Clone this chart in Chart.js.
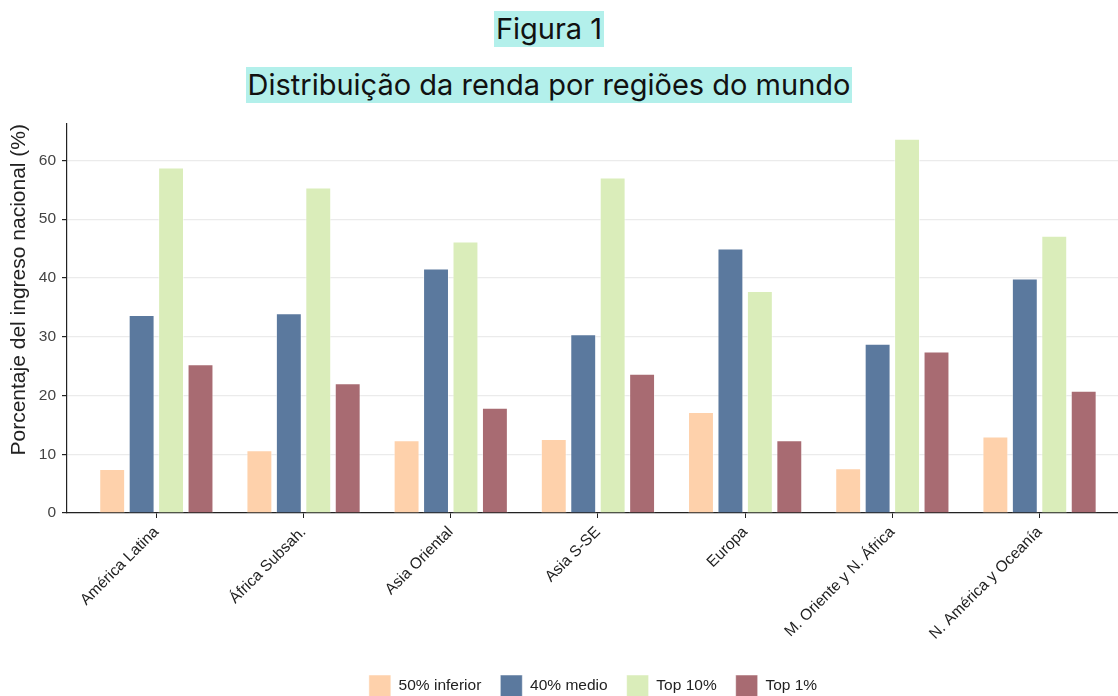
<!DOCTYPE html>
<html>
<head>
<meta charset="utf-8">
<script src="https://cdn.jsdelivr.net/npm/chart.js@4.4.1/dist/chart.umd.min.js"></script>
<style>
  html, body { margin: 0; padding: 0; background: #fff; overflow: hidden; }
  #wrap { position: relative; width: 1118px; height: 707px; }
  .title { position: absolute; left: 0; width: 1098px; text-align: center; font-family: Inter, 'Noto Sans', sans-serif; color: #111; }
  .title span { background: #B3F0EB; padding: 0 2px; display: inline-block; }
  #t1 { top: 11px; font-size: 29px; line-height: 36px; }
  #t2 { top: 67px; font-size: 29px; line-height: 36px; }
  canvas { position: absolute; left: 0; top: 0; }
</style>
</head>
<body>
<div id="wrap">
  <canvas id="incomeChart" width="1118" height="707"></canvas>
  <div class="title" id="t1"><span>Figura 1</span></div>
  <div class="title" id="t2"><span>Distribuição da renda por regiões do mundo</span></div>
</div>
<script>
const regions = ['América Latina', 'África Subsah.', 'Asia Oriental', 'Asia S-SE', 'Europa', 'M. Oriente y N. África', 'N. América y Oceanía'];
const bottom50 = [7.5, 10.7, 12.4, 12.6, 17.2, 7.6, 13.0];
const middle40 = [33.7, 34.0, 41.6, 30.4, 45.0, 28.8, 39.9];
const top10 = [58.8, 55.4, 46.2, 57.1, 37.8, 63.7, 47.2];
const top1 = [25.3, 22.1, 17.9, 23.7, 12.4, 27.5, 20.8];
const yTicks = [0, 10, 20, 30, 40, 50, 60];

const seriesNames = ['50% inferior', '40% medio', 'Top 10%', 'Top 1%'];
const seriesColors = ['#FED1AB', '#5B799E', '#DAEDBA', '#A86B72'];
const axisFont = "'Liberation Sans', Arial, sans-serif";

function toPoints(values) {
  return values.map((v, i) => ({ x: i, y: v }));
}

const datasets = [bottom50, middle40, top10, top1].map((values, k) => ({
  label: seriesNames[k],
  data: toPoints(values),
  backgroundColor: seriesColors[k],
  borderColor: 'rgba(255,255,255,0.5)',
  borderWidth: 1,
  categoryPercentage: 0.8,
  barPercentage: 0.88
}));

// legend in the original sits a bit right of the page centre
const legendShift = {
  id: 'legendShift',
  afterLayout(chart) {
    chart.legend.left += 34;
    chart.legend.right += 34;
  }
};

new Chart(document.getElementById('incomeChart'), {
  type: 'bar',
  data: { datasets: datasets },
  plugins: [legendShift],
  options: {
    responsive: false,
    animation: false,
    layout: { autoPadding: false, padding: { top: 124, left: 0, right: 0, bottom: 0 } },
    plugins: {
      tooltip: { enabled: false },
      legend: {
        position: 'bottom',
        labels: {
          boxWidth: 22,
          boxHeight: 22,
          padding: 19,
          color: '#222',
          font: { family: axisFont, size: 15.5 }
        }
      }
    },
    scales: {
      x: {
        type: 'linear',
        offset: false,
        min: -0.607,
        max: 6.533,
        afterBuildTicks: s => { s.ticks = regions.map((r, i) => ({ value: i })); },
        afterFit: s => { s.height = 143; },
        ticks: {
          autoSkip: false,
          maxRotation: 45,
          minRotation: 45,
          padding: 5,
          color: '#222',
          font: { family: axisFont, size: 15.5 },
          callback: v => regions[v]
        },
        grid: { offset: false, drawOnChartArea: false, tickLength: 5, tickColor: '#222' },
        border: { display: true, color: '#222', width: 1.2 }
      },
      y: {
        min: 0,
        max: 66.2,
        afterBuildTicks: s => { s.ticks = yTicks.map(v => ({ value: v })); },
        afterFit: s => { s.width = 67; },
        title: {
          display: true,
          align: 'end',
          text: 'Porcentaje del ingreso nacional (%)',
          color: '#222',
          padding: { top: 7, bottom: 0 },
          font: { family: axisFont, size: 21 }
        },
        ticks: {
          padding: 6,
          color: '#444',
          font: { family: axisFont, size: 15.5 }
        },
        grid: { color: '#EBEBEB', lineWidth: 1.2, tickLength: 5, tickColor: '#222' },
        border: { display: true, color: '#222', width: 1.2 }
      }
    }
  }
});
</script>
</body>
</html>
